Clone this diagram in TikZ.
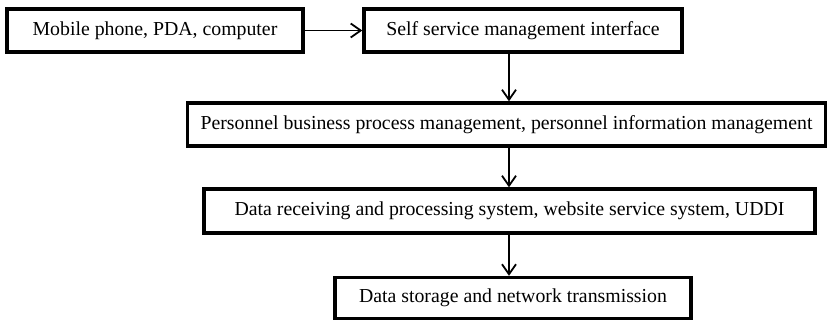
\documentclass[tikz,border=0pt]{standalone}
\usepackage{fontspec}
\setmainfont{Liberation Serif}
\usetikzlibrary{arrows.meta}
\begin{document}
\begin{tikzpicture}[x=1pt,y=-1pt,
  boxstyle/.style={draw, line width=3.4pt, inner sep=0pt, font=\fontsize{19.8}{22}\selectfont},
  conn/.style={line width=1.8pt, -{Straight Barb[length=10pt,width=14pt,line width=1.8pt]}}]
\useasboundingbox (0,0) rectangle (828,321);
\node[boxstyle, minimum width=296pt, minimum height=43pt] (b1) at (155,30.5) {Mobile phone, PDA, computer};
\node[boxstyle, minimum width=318pt, minimum height=43pt] (b2) at (523,30.5) {Self service management interface};
\node[boxstyle, minimum width=638pt, minimum height=43pt] (b3) at (506.5,124.5) {Personnel business process management, personnel information management};
\node[boxstyle, minimum width=611pt, minimum height=44pt] (b4) at (509.5,211) {Data receiving and processing system, website service system, UDDI};
\node[boxstyle, minimum width=356pt, minimum height=41pt] (b5) at (513,298) {Data storage and network transmission};
\draw[conn] (b1.east) -- (b2.west);
\draw[conn] (b2.south -| 509,0) -- (b3.north -| 509,0);
\draw[conn] (b3.south -| 509,0) -- (b4.north -| 509,0);
\draw[conn] (b4.south -| 509,0) -- (b5.north -| 509,0);
\end{tikzpicture}
\end{document}
